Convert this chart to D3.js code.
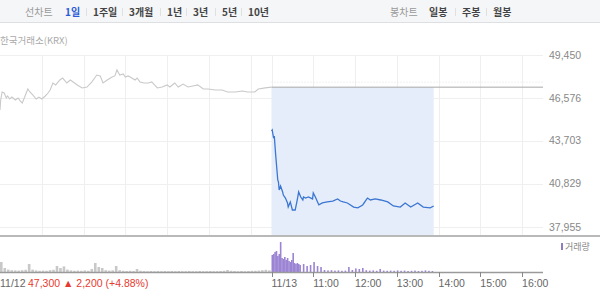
<!DOCTYPE html>
<html>
<head>
<meta charset="utf-8">
<script src="https://cdn.jsdelivr.net/npm/d3@7/dist/d3.min.js"></script>
<style>
  body { margin: 0; background: #fff; }
  svg { display: block; font-family: "Noto Sans CJK KR", "Noto Sans", sans-serif; }
</style>
</head>
<body>
<script>
// --- data ---
var dayLabels = ["11/12", "11/13"];
var dayOpen = ["09:00", "10:00"];   // 11/13 opened late
var sessionLen = 390;              // minutes per session

var prevClose = 47300;
var prevChange = "47,300 \u25B2 2,200 (+4.88%)";

var yTicks = [37955, 40829, 43703, 46576, 49450];
var hourTicks = ["11:00", "12:00", "13:00", "14:00", "15:00", "16:00"];

var periodTabs = ["1일", "1주일", "3개월", "1년", "3년", "5년", "10년"];
var candleTabs = ["일봉", "주봉", "월봉"];

// 11/12 price
var prevTimes = ["09:00","09:01","09:03","09:06","09:09","09:11","09:14","09:17","09:22","09:26","09:29","09:32","09:36","09:40","09:43","09:47","09:52","09:56",
  "10:00","10:05","10:09","10:12","10:16","10:20","10:26","10:30","10:36","10:41","10:45","10:51","10:58","11:05","11:12","11:16","11:19","11:24","11:28",
  "11:34","11:41","11:45","11:48","11:52","11:57","12:00","12:04","12:07","12:14","12:17","12:21","12:27","12:33","12:38","12:46","12:53","13:00","13:04",
  "13:11","13:16","13:23","13:30","13:37","13:44","13:52","13:59","14:09","14:19","14:27","14:38","14:48","14:56","15:06","15:11","15:21","15:30"];
var prevPrices = [45780,46440,46980,46910,46580,46710,46510,46640,46440,46580,46380,46240,46710,47180,46980,46780,46510,46640,
  46510,46710,46910,47110,47580,47450,47780,47910,47580,47780,47650,47450,47250,47310,47650,47910,48110,48050,47580,
  47780,47980,48050,48450,48110,48180,47980,48050,47980,47780,47910,47650,47580,47580,47650,47250,47310,47450,47310,
  47580,47310,47510,47310,47380,47450,47180,47180,47110,47110,46980,46980,47040,46980,46980,47180,47250,47300];

// 11/13 price
var curTimes = ["10:00","10:01","10:03","10:04","10:06","10:09","10:10","10:11","10:13","10:16","10:17","10:20","10:23","10:24","10:27","10:30","10:34",
  "10:37","10:39","10:42","10:45","10:46","10:49","10:53","10:59","11:00","11:03","11:08","11:13","11:20","11:28","11:35","11:39","11:43","11:49",
  "11:58","12:04","12:11","12:17","12:18","12:22","12:29","12:37","12:47","12:55","13:05","13:12","13:20","13:30","13:38","13:48","13:53"];
var curPrices = [44370,44440,43900,44040,42770,41100,40960,40430,40700,40300,40090,39890,39560,39290,39630,39090,39090,
  39760,40300,39960,39760,39960,39890,39960,39830,40230,39960,39430,39560,39630,39690,39830,39690,39630,39560,
  39290,39230,39430,39830,39890,39760,39830,39760,39630,39360,39290,39560,39290,39560,39290,39230,39360];

// 11/12 volume, thousand shares per 5-minute bucket from 09:00
var prevVolumes = [500,200,120,90,80,70,90,110,400,120,80,60,70,60,90,110,300,200,280,120,80,60,70,60,80,60,150,450,250,200,
  90,70,80,300,90,60,50,60,50,150,60,50,40,50,40,50,40,50,40,50,40,50,40,40,50,40,40,50,40,40,50,40,40,50,60,100,60,50,40,50,
  40,50,60,60,70,90,110,80];

// 11/13 volume
var curVolTimes = ["10:00","10:02","10:04","10:06","10:08","10:10","10:12","10:14","10:16","10:18","10:20","10:22","10:24","10:26","10:28","10:30",
  "10:32","10:34","10:36","10:38","10:40","10:45","10:50","10:55","11:00","11:05","11:10","11:15","11:20","11:25","11:30","11:35","11:40","11:45",
  "11:50","11:55","12:00","12:05","12:10","12:15","12:20","12:25","12:30","12:35","12:40","12:45","12:50","12:55","13:00","13:05","13:10","13:15",
  "13:20","13:25","13:30","13:35","13:40","13:45","13:50"];
var curVolumes = [850,900,1000,1050,800,900,1500,700,650,750,600,700,550,500,600,950,
  450,400,450,400,350,400,300,350,500,300,250,100,80,90,70,80,60,70,
  250,100,180,150,200,90,70,80,60,150,70,60,70,60,80,60,70,50,
  60,70,50,60,80,60,50];

var width = 600, height = 306;
var plotRight = 543;
var numFont = "'Liberation Sans', Arial, sans-serif";

var svg = d3.select("body").append("svg")
    .attr("width", width)
    .attr("height", height);

function toMin(s) {
  var p = s.split(":");
  return +p[0] * 60 + +p[1];
}
// position on the two-session axis
function sessionX(day, t) {
  return day * sessionLen + toMin(t) - toMin(dayOpen[day]);
}

var x = d3.scaleLinear().domain([0, 2 * sessionLen]).range([0, plotRight]);
var y = d3.scaleLinear().domain([yTicks[0], yTicks[yTicks.length - 1]]).range([227, 55]);
var yVol = d3.scaleLinear().domain([0, 1500]).range([272, 242]);

// header bar
svg.append("rect").attr("x", 0).attr("y", 0).attr("width", width).attr("height", 22).attr("fill", "#f5f6f8");
svg.append("line").attr("x1", 0).attr("x2", width).attr("y1", 22.5).attr("y2", 22.5).attr("stroke", "#dedfe3");

svg.append("text").attr("x", 25).attr("y", 15.5).text("선차트")
  .attr("font-size", 10).attr("fill", "#999");
var tabX = [65, 93, 129, 167, 193, 222, 248];
svg.selectAll(".tab").data(periodTabs).enter().append("text")
  .attr("x", function(d, i) { return tabX[i]; })
  .attr("y", 15.5)
  .attr("font-size", 10)
  .attr("font-weight", "bold")
  .attr("fill", function(d, i) { return i == 0 ? "#2a5bd7" : "#444"; })
  .text(function(d) { return d; });
svg.selectAll(".tabsep").data(tabX.slice(1)).enter().append("line")
  .attr("x1", function(d) { return d - 6.5; })
  .attr("x2", function(d) { return d - 6.5; })
  .attr("y1", 8).attr("y2", 16)
  .attr("stroke", "#e0e0e0");

svg.append("text").attr("x", 390).attr("y", 15.5).text("봉차트")
  .attr("font-size", 10).attr("fill", "#999");
var candleX = [429, 462, 493];
svg.selectAll(".ctab").data(candleTabs).enter().append("text")
  .attr("x", function(d, i) { return candleX[i]; })
  .attr("y", 15.5)
  .attr("font-size", 10)
  .attr("font-weight", "bold")
  .attr("fill", "#444")
  .text(function(d) { return d; });
svg.selectAll(".csep").data(candleX.slice(1)).enter().append("line")
  .attr("x1", function(d) { return d - 6.5; })
  .attr("x2", function(d) { return d - 6.5; })
  .attr("y1", 8).attr("y2", 16)
  .attr("stroke", "#e0e0e0");

svg.append("text").attr("x", 0).attr("y", 44).text("한국거래소(KRX)")
  .attr("font-size", 9.5).attr("fill", "#aaa");

// grid
var hourPos = [];
for (var d = 0; d < 2; d++) {
  for (var m = 60; m < sessionLen; m += 60) hourPos.push(x(d * sessionLen + m));
}
hourPos.push(x(sessionLen));
svg.selectAll(".vgrid").data(hourPos).enter().append("line")
  .attr("x1", function(d) { return Math.round(d) + 0.5; })
  .attr("x2", function(d) { return Math.round(d) + 0.5; })
  .attr("y1", 55).attr("y2", 236)
  .attr("stroke", "#efefef");

svg.selectAll(".hgrid").data(yTicks).enter().append("line")
  .attr("x1", 0).attr("x2", plotRight)
  .attr("y1", function(d) { return Math.round(y(d)) + 0.5; })
  .attr("y2", function(d) { return Math.round(y(d)) + 0.5; })
  .attr("stroke", "#efefef");

svg.selectAll(".ylab").data(yTicks).enter().append("text")
  .attr("x", 549)
  .attr("y", function(d) { return y(d) + 3.5; })
  .attr("font-size", 10.5)
  .attr("font-family", numFont)
  .attr("fill", "#888")
  .text(function(d) { return d3.format(",")(d); });

// today's elapsed range
var xStart = x(sessionX(1, curTimes[0]));
var xEnd = x(sessionX(1, curTimes[curTimes.length - 1]));
svg.append("rect")
  .attr("x", xStart).attr("y", y(prevClose))
  .attr("width", xEnd - xStart).attr("height", 236 - y(prevClose))
  .attr("fill", "#e6edfa");

svg.append("line")
  .attr("x1", xStart).attr("x2", plotRight)
  .attr("y1", y(prevClose) - 5).attr("y2", y(prevClose) - 5)
  .attr("stroke", "#e2e2e2").attr("stroke-dasharray", "1,2");
svg.append("line")
  .attr("x1", xStart).attr("x2", plotRight)
  .attr("y1", y(prevClose)).attr("y2", y(prevClose))
  .attr("stroke", "#a8a8a8");

// price lines
var prevLine = d3.line()
  .x(function(d, i) { return x(sessionX(0, prevTimes[i])); })
  .y(function(d) { return y(d); });
svg.append("path").datum(prevPrices)
  .attr("d", prevLine)
  .attr("fill", "none")
  .attr("stroke", "#c9c9c9")
  .attr("stroke-width", 1.1);

var curLine = d3.line()
  .x(function(d, i) { return x(sessionX(1, curTimes[i])); })
  .y(function(d) { return y(d); });
svg.append("path").datum(curPrices)
  .attr("d", curLine)
  .attr("fill", "none")
  .attr("stroke", "#3b76d2")
  .attr("stroke-width", 1.3);

svg.append("line").attr("x1", 0).attr("x2", width).attr("y1", 236).attr("y2", 236)
  .attr("stroke", "#b9b9b9").attr("stroke-width", 2);

// volume
svg.selectAll(".pvol").data(prevVolumes).enter().append("rect")
  .attr("x", function(d, i) { return x(i * 5); })
  .attr("y", function(d) { return yVol(d); })
  .attr("width", 2.6)
  .attr("height", function(d) { return 272 - yVol(d); })
  .attr("fill", "#c8c8c8");

svg.selectAll(".cvol").data(curVolumes).enter().append("rect")
  .attr("x", function(d, i) { return x(sessionX(1, curVolTimes[i])); })
  .attr("y", function(d) { return yVol(d); })
  .attr("width", 1.6)
  .attr("height", function(d) { return 272 - yVol(d); })
  .attr("fill", "#9c84d4");

svg.append("line").attr("x1", 0).attr("x2", plotRight).attr("y1", 272.5).attr("y2", 272.5)
  .attr("stroke", "#9a9a9a").attr("stroke-width", 1.5);

svg.append("rect").attr("x", 561).attr("y", 243).attr("width", 2).attr("height", 7).attr("fill", "#8e7cc3");
svg.append("text").attr("x", 565).attr("y", 250).text("거래량")
  .attr("font-size", 9).attr("fill", "#888");

// x axis labels
var axisTicks = [{ t: sessionX(1, dayOpen[1]), label: dayLabels[1] }];
hourTicks.forEach(function(h) { axisTicks.push({ t: sessionX(1, h), label: h }); });

svg.selectAll(".xtick").data(axisTicks).enter().append("line")
  .attr("x1", function(d) { return Math.round(x(d.t)) + 0.5; })
  .attr("x2", function(d) { return Math.round(x(d.t)) + 0.5; })
  .attr("y1", 272).attr("y2", 277)
  .attr("stroke", "#888");

svg.selectAll(".xlab").data(axisTicks).enter().append("text")
  .attr("x", function(d) { return x(d.t); })
  .attr("y", 287)
  .attr("font-size", 10.5)
  .attr("font-family", numFont)
  .attr("fill", "#666")
  .text(function(d) { return d.label; });

svg.append("text").attr("x", 0).attr("y", 287).text(dayLabels[0])
  .attr("font-size", 10.5).attr("font-family", numFont).attr("fill", "#666");
svg.append("text").attr("x", 28).attr("y", 287).text(prevChange)
  .attr("font-size", 10.5).attr("font-family", numFont).attr("fill", "#e8392f");
</script>
</body>
</html>
